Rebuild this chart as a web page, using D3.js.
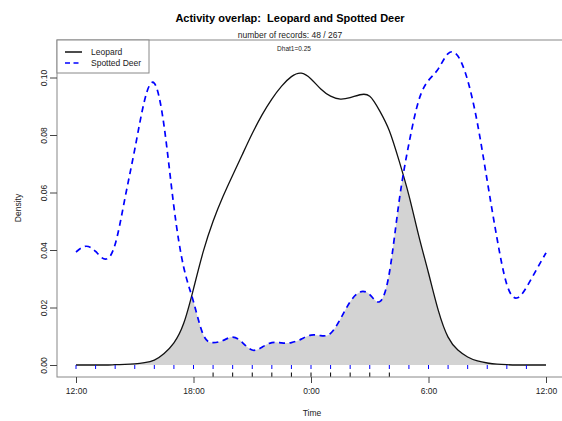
<!DOCTYPE html>
<html lang="en">

<head>
    <meta charset="UTF-8">
    <script src="https://cdnjs.cloudflare.com/ajax/libs/d3/7.9.0/d3.min.js"></script>
    <title>Activity overlap</title>
    <style>
        body {
            margin: 0;
            background-color: white;
            font-family: "Liberation Sans", Arial, sans-serif;
        }

        svg {
            display: block;
        }

        text {
            white-space: pre;
        }
    </style>
</head>

<body>
    <div id="content"></div>
    <script>
        const width = 562;
        const height = 421;

        // hours since noon (0 = 12:00, 12 = 0:00, 24 = 12:00)
        const hours = [0, 0.5, 1, 1.5, 2, 2.5, 3, 3.5, 4, 4.5, 5, 5.5, 6, 6.5, 7, 7.5, 8, 8.5, 9, 9.5,
            10, 10.5, 11, 11.5, 12, 12.5, 13, 13.5, 14, 14.5, 15, 15.5, 16, 16.5, 17, 17.5, 18, 18.5, 19, 19.5,
            20, 20.5, 21, 21.5, 22, 22.5, 23, 23.5, 24];

        const leopard = [0, 0, 0, 0, 0.0001, 0.0002, 0.0004, 0.0008, 0.0017, 0.004, 0.0077, 0.0145, 0.0265, 0.0395, 0.050, 0.0585, 0.066, 0.0733, 0.0805, 0.087,
            0.0925, 0.097, 0.1003, 0.1015, 0.0995, 0.096, 0.0935, 0.0925, 0.093, 0.094, 0.0935, 0.0885, 0.0815, 0.071, 0.059, 0.045, 0.032, 0.019, 0.0097, 0.0052,
            0.0028, 0.0014, 0.0007, 0.0003, 0.0001, 0, 0, 0, 0];

        const deer = [0.0393, 0.0413, 0.0395, 0.0368, 0.042, 0.058, 0.075, 0.092, 0.098, 0.083, 0.055, 0.034, 0.022, 0.0105, 0.0078, 0.0085, 0.0097, 0.0078, 0.0052, 0.0062,
            0.0078, 0.0077, 0.0078, 0.009, 0.0104, 0.0102, 0.011, 0.016, 0.022, 0.0254, 0.0245, 0.022, 0.032, 0.057, 0.077, 0.092, 0.099, 0.103, 0.1083, 0.1075,
            0.099, 0.084, 0.064, 0.044, 0.028, 0.0233, 0.027, 0.033, 0.039];

        // rug: hours (since noon) at which records exist
        const deerRug = [0, 1, 2, 3, 4, 5, 6, 7, 8, 9, 10, 11, 12, 13, 14, 15, 16, 17, 18, 19, 20, 21, 22, 23];
        const leopardRug = [7, 8, 9, 10, 11, 12, 13, 14, 15, 16];

        const xTicks = [0, 6, 12, 18, 24];
        const xTickLabels = ["12:00", "18:00", "0:00", "6:00", "12:00"];
        const yTicks = [0, 0.02, 0.04, 0.06, 0.08, 0.10];

        const box = { left: 57, right: 566, top: 40, bottom: 377 };

        const svg = d3.select("#content").append("svg")
            .attr("width", width)
            .attr("height", height);

        const x = d3.scaleLinear().domain([0, 24]).range([76, 546]);
        const y = d3.scaleLinear().domain([0, 0.1]).range([365, 77.5]);

        const leoData = hours.map((h, i) => ({ h: h, v: leopard[i] }));
        const deerData = hours.map((h, i) => ({ h: h, v: deer[i] }));

        const curve = d3.curveNatural;

        // overlap: area under leopard clipped to area under deer
        svg.append("clipPath")
            .attr("id", "deerClip")
            .append("path")
            .attr("d", d3.area().x(d => x(d.h)).y0(y(0)).y1(d => y(d.v)).curve(curve)(deerData));

        svg.append("path")
            .attr("clip-path", "url(#deerClip)")
            .attr("d", d3.area().x(d => x(d.h)).y0(y(0)).y1(d => y(d.v)).curve(curve)(leoData))
            .attr("fill", "#d3d3d3");

        const line = d3.line().x(d => x(d.h)).y(d => y(d.v)).curve(curve);

        svg.append("path")
            .attr("d", line(leoData))
            .attr("fill", "none")
            .attr("stroke", "#111")
            .attr("stroke-width", 1.3);

        svg.append("path")
            .attr("d", line(deerData))
            .attr("fill", "none")
            .attr("stroke", "blue")
            .attr("stroke-width", 1.7)
            .attr("stroke-dasharray", "6,4.5");

        // rugs
        svg.append("g").selectAll("line")
            .data(deerRug)
            .enter()
            .append("line")
            .attr("x1", d => x(d)).attr("x2", d => x(d))
            .attr("y1", y(0)).attr("y2", y(0) + 4)
            .attr("stroke", "blue");

        svg.append("g").selectAll("line")
            .data(leopardRug)
            .enter()
            .append("line")
            .attr("x1", d => x(d)).attr("x2", d => x(d))
            .attr("y1", box.bottom - 4.5).attr("y2", box.bottom)
            .attr("stroke", "black");

        // box
        svg.append("rect")
            .attr("x", box.left)
            .attr("y", box.top)
            .attr("width", box.right - box.left)
            .attr("height", box.bottom - box.top)
            .attr("fill", "none")
            .attr("stroke", "#888");

        // x axis
        const xAxis = d3.axisBottom(x)
            .tickValues(xTicks)
            .tickFormat((d, i) => xTickLabels[i])
            .tickSize(6)
            .tickPadding(5);
        const gx = svg.append("g")
            .attr("transform", `translate(0, ${box.bottom})`)
            .call(xAxis);
        gx.select(".domain").remove();
        gx.selectAll(".tick line").attr("stroke", "#444");
        gx.selectAll("text")
            .attr("font-family", "Liberation Sans, Arial, sans-serif")
            .attr("font-size", "8.5px")
            .attr("fill", "#222");

        // y axis
        const yAxis = d3.axisLeft(y)
            .tickValues(yTicks)
            .tickFormat(d3.format(".2f"))
            .tickSize(7);
        const gy = svg.append("g")
            .attr("transform", `translate(${box.left}, 0)`)
            .call(yAxis);
        gy.select(".domain").remove();
        gy.selectAll(".tick line").attr("stroke", "#444");
        gy.selectAll("text")
            .attr("font-family", "Liberation Sans, Arial, sans-serif")
            .attr("font-size", "8.5px")
            .attr("fill", "#222")
            .attr("text-anchor", "middle")
            .attr("dy", null)
            .attr("x", null)
            .attr("transform", "translate(-13, 0) rotate(-90)")
            .attr("y", 0)
            .attr("dominant-baseline", "central");

        // titles
        svg.append("text")
            .attr("x", 290).attr("y", 22)
            .attr("text-anchor", "middle")
            .attr("font-size", "11px")
            .attr("font-weight", "bold")
            .text("Activity overlap:  Leopard and Spotted Deer");

        svg.append("text")
            .attr("x", 290).attr("y", 38)
            .attr("text-anchor", "middle")
            .attr("font-size", "8.5px")
            .attr("fill", "#222")
            .text("number of records: 48 / 267");

        svg.append("text")
            .attr("x", 294).attr("y", 51)
            .attr("text-anchor", "middle")
            .attr("font-size", "6.5px")
            .attr("fill", "#222")
            .text("Dhat1=0.25");

        svg.append("text")
            .attr("x", 312).attr("y", 416)
            .attr("text-anchor", "middle")
            .attr("font-size", "8.5px")
            .attr("fill", "#222")
            .text("Time");

        svg.append("text")
            .attr("transform", "translate(21, 208) rotate(-90)")
            .attr("text-anchor", "middle")
            .attr("font-size", "8.5px")
            .attr("fill", "#222")
            .text("Density");

        // legend
        const legend = svg.append("g");
        legend.append("rect")
            .attr("x", box.left).attr("y", box.top)
            .attr("width", 92).attr("height", 33)
            .attr("fill", "white")
            .attr("stroke", "#888");

        const legendItems = [
            { label: "Leopard", color: "#111", dash: null, width: 1.5 },
            { label: "Spotted Deer", color: "blue", dash: "5,3.5", width: 1.7 }
        ];
        legendItems.forEach((item, i) => {
            const ly = 52 + i * 11;
            legend.append("line")
                .attr("x1", 65).attr("x2", 82)
                .attr("y1", ly).attr("y2", ly)
                .attr("stroke", item.color)
                .attr("stroke-width", item.width)
                .attr("stroke-dasharray", item.dash);
            legend.append("text")
                .attr("x", 91).attr("y", ly)
                .attr("dy", "0.35em")
                .attr("font-size", "8.5px")
                .attr("fill", "#222")
                .text(item.label);
        });
    </script>

</body>

</html>
